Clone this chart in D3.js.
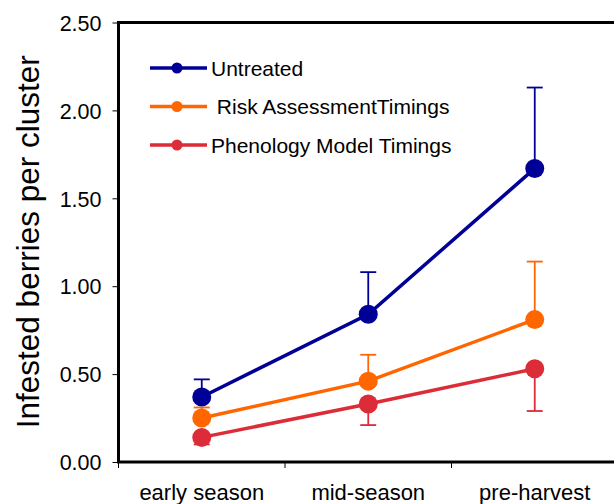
<!DOCTYPE html>
<html><head><meta charset="utf-8">
<script src="https://cdn.jsdelivr.net/npm/d3@7/dist/d3.min.js"></script>
<style>body{margin:0;background:#fff;} svg{display:block;} text{font-family:"Liberation Sans",Arial,sans-serif;fill:#000;}</style>
</head><body><svg id="c" width="614" height="504"></svg>
<script>
const categories = ["early season", "mid-season", "pre-harvest"];
const seriesNames = ["Untreated", " Risk AssessmentTimings", "Phenology Model Timings"];
const untreated = [0.37, 0.84, 1.67];
const riskAssessment = [0.25, 0.46, 0.81];
const phenology = [0.14, 0.33, 0.53];
const untreatedErr = [0.47, 1.08, 2.13];
const riskErr = [0.31, 0.61, 1.14];
const phenologyErr = [0.10, 0.21, 0.29];
const yTicks = [0, 0.5, 1.0, 1.5, 2.0, 2.5];
const colors = ["#000096", "#FF6600", "#DC2C37"];

const series = [
  {name: seriesNames[0], values: untreated, err: untreatedErr, color: colors[0]},
  {name: seriesNames[1], values: riskAssessment, err: riskErr, color: colors[1]},
  {name: seriesNames[2], values: phenology, err: phenologyErr, color: colors[2]}
];

const svg = d3.select("#c");
const L = 118.5, R = 618, T = 22.5, B = 462;
const x = d3.scaleBand().domain(categories).range([L, R]).padding(0);
const y = d3.scaleLinear().domain([0, 2.5]).range([B, T]);

// y ticks
const yAxis = svg.append("g").attr("transform", `translate(${L},0)`)
  .call(d3.axisLeft(y).tickValues(yTicks).tickFormat(d3.format(".2f")).tickSize(6).tickPadding(11));
yAxis.select(".domain").remove();
yAxis.selectAll("line").attr("stroke", "#000").attr("stroke-width", 1);
yAxis.selectAll("text").style("font-size", "21.5px").attr("dy", "0.36em");

// x ticks at band boundaries
const xb = categories.map(c => x(c)).concat([x(categories[categories.length-1]) + x.bandwidth()]);
svg.append("g").selectAll("line").data(xb).join("line")
  .attr("x1", d => d).attr("x2", d => d).attr("y1", B).attr("y2", B + 6)
  .attr("stroke", "#000").attr("stroke-width", 1);
svg.append("g").selectAll("text").data(categories).join("text")
  .attr("x", d => x(d) + x.bandwidth()/2).attr("y", 500)
  .attr("text-anchor", "middle").style("font-size", "22px").text(d => d);

// frame
svg.append("rect").attr("x", L).attr("y", T).attr("width", R - L).attr("height", B - T)
  .attr("fill", "none").attr("stroke", "#000").attr("stroke-width", 3);

// y label
svg.append("text").attr("transform", `translate(39,${(T+B)/2 - 0.5}) rotate(-90)`)
  .attr("text-anchor", "middle").style("font-size", "31.5px").text("Infested berries per cluster");

const cx = i => x(categories[i]) + x.bandwidth()/2;
const line = d3.line().x((d, i) => cx(i)).y(d => y(d));

series.forEach(s => {
  svg.append("path").attr("d", line(s.values)).attr("fill", "none")
    .attr("stroke", s.color).attr("stroke-width", 3.5);
});
series.forEach(s => {
  const g = svg.append("g");
  s.values.forEach((v, i) => {
    g.append("line").attr("x1", cx(i)).attr("x2", cx(i)).attr("y1", y(v)).attr("y2", y(s.err[i]))
      .attr("stroke", s.color).attr("stroke-width", 1.8);
    g.append("line").attr("x1", cx(i) - 8).attr("x2", cx(i) + 8).attr("y1", y(s.err[i])).attr("y2", y(s.err[i]))
      .attr("stroke", s.color).attr("stroke-width", 1.8);
  });
});
series.forEach(s => {
  svg.append("g").selectAll("circle").data(s.values).join("circle")
    .attr("cx", (d, i) => cx(i)).attr("cy", d => y(d)).attr("r", 9.5).attr("fill", s.color);
});

// legend
const leg = svg.append("g");
series.forEach((s, i) => {
  const ly = 68 + i * 38.5;
  leg.append("line").attr("x1", 150).attr("x2", 207).attr("y1", ly).attr("y2", ly)
    .attr("stroke", s.color).attr("stroke-width", 3.5);
  leg.append("circle").attr("cx", 177).attr("cy", ly).attr("r", 5.5).attr("fill", s.color);
  leg.append("text").attr("x", 211).attr("y", ly).attr("dy", "0.36em")
    .style("font-size", "21px").style("white-space", "pre").attr("xml:space", "preserve").text(s.name);
});
</script></body></html>
